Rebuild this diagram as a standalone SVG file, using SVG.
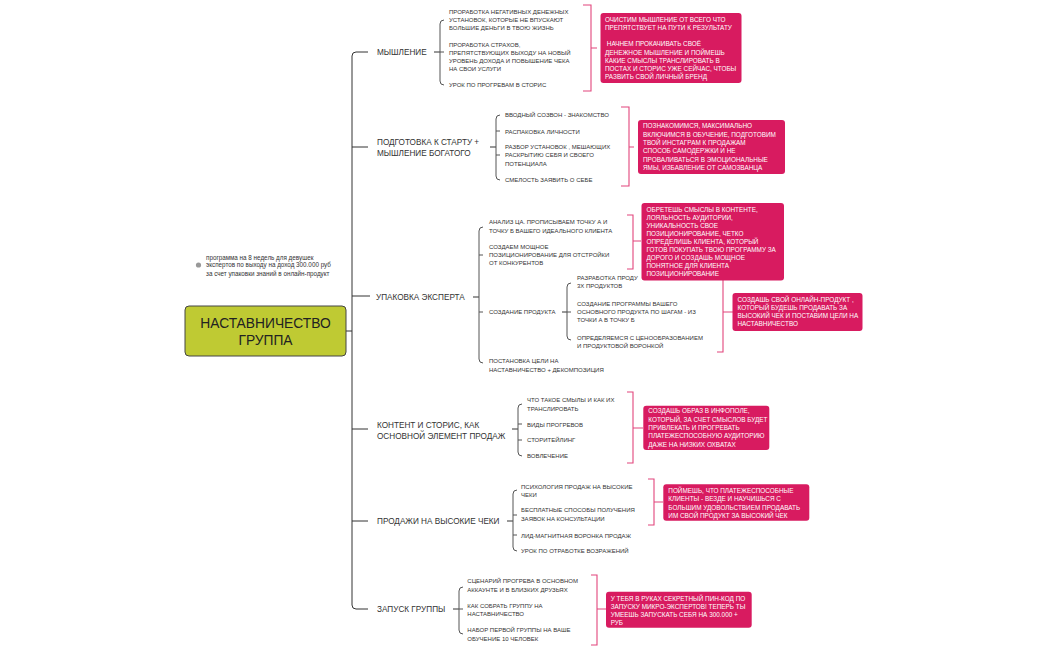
<svg xmlns="http://www.w3.org/2000/svg" width="1050" height="650" viewBox="0 0 1050 650">
<style>
.bg{fill:#ffffff}
.ln{fill:none;stroke:#333;stroke-width:1}
.br{fill:none;stroke:#555;stroke-width:1}
.pk{fill:none;stroke:#e2457c;stroke-width:1.1}
.box{fill:#d81b60}
.t{font-family:"Liberation Sans",Arial,sans-serif;font-size:8.2px;fill:#333}
.c{font-family:"Liberation Sans",Arial,sans-serif;font-size:6px;fill:#333}
.w{font-family:"Liberation Sans",Arial,sans-serif;font-size:6.4px;fill:#fff}
.n{font-family:"Liberation Sans",Arial,sans-serif;font-size:6.3px;fill:#333}
.root{fill:#bfca33;stroke:#444;stroke-width:1}
.rt{font-family:"Liberation Sans",Arial,sans-serif;font-size:13.8px;fill:#222;text-anchor:middle}
</style>
<rect class="bg" x="0" y="0" width="1050" height="650"/>

<g id="connectors">
  <path class="ln" d="M346,331 H352"/>
  <path class="ln" d="M368,52 H356 Q352,52 352,56 V605 Q352,609 356,609 H368"/>
  <path class="ln" d="M352,147 H368 M352,296 H370 M352,429 H368 M352,521 H368"/>
  <path class="ln" d="M434,52 H440"/>
  <path class="br" d="M444,20 Q440,20 440,24 V81 Q440,85 444,85 M440,52 H444"/>
  <path class="pk" d="M583,5 H591 V91 H583 M591,48 H597"/>
  <path class="ln" d="M490,147 H496"/>
  <path class="br" d="M500,115 Q496,115 496,119 V176 Q496,180 500,180 M496,131 H500 M496,155 H500"/>
  <path class="pk" d="M621,107 H629 V186 H621 M629,147 H634"/>
  <path class="ln" d="M473,297 H479"/>
  <path class="br" d="M483,227 Q479,227 479,231 V359 Q479,363 483,363 M479,255 H483 M479,312 H483"/>
  <path class="pk" d="M627,215 H633 V269 H627 M633,241 H641"/>
  <path class="ln" d="M562,312 H567"/>
  <path class="br" d="M571,283 Q567,283 567,287 V336 Q567,340 571,340 M567,312 H571"/>
  <path class="pk" d="M717,272 H723 V352 H717 M723,312 H733"/>
  <path class="ln" d="M512,429 H518"/>
  <path class="br" d="M522,404 Q518,404 518,408 V452 Q518,456 522,456 M518,424 H522 M518,440 H522"/>
  <path class="pk" d="M627,392 H633 V463 H627 M633,428 H643"/>
  <path class="ln" d="M507,521 H513"/>
  <path class="br" d="M517,490 Q513,490 513,494 V547 Q513,551 517,551 M513,515 H517 M513,535 H517"/>
  <path class="pk" d="M648,479 H654 V525 H648 M654,502 H663"/>
  <path class="ln" d="M453,609 H459"/>
  <path class="br" d="M463,587 Q459,587 459,591 V630 Q459,634 463,634 M459,609 H463"/>
  <path class="pk" d="M591,575 H597 V645 H591 M597,609 H606"/>
</g>

<g id="note">
  <circle cx="198.5" cy="265" r="2.6" fill="#999"/>
  <text class="n" x="206"><tspan x="206" y="260">программа на 8 недель для  девушек</tspan><tspan x="206" y="267.3">экспертов по выходу на доход 300.000 руб</tspan><tspan x="206" y="275.5">за счет упаковки знаний в онлайн-продукт</tspan></text>
</g>

<g id="root">
  <rect class="root" x="185" y="306" width="161" height="50" rx="4"/>
  <text class="rt" x="265.5"><tspan x="265.5" y="327.5">НАСТАВНИЧЕСТВО</tspan><tspan x="265.5" y="344.5">ГРУППА</tspan></text>
</g>

<g id="topic-1">
  <text class="t" x="377" y="55.3">МЫШЛЕНИЕ</text>
</g>
<g id="sub-1">
  <text class="c"><tspan x="449" y="14">ПРОРАБОТКА НЕГАТИВНЫХ ДЕНЕЖНЫХ</tspan><tspan x="449" y="22.2">УСТАНОВОК, КОТОРЫЕ НЕ ВПУСКАЮТ</tspan><tspan x="449" y="30.4">БОЛЬШИЕ ДЕНЬГИ В ТВОЮ ЖИЗНЬ</tspan></text>
  <text class="c"><tspan x="449" y="46.5">ПРОРАБОТКА СТРАХОВ,</tspan><tspan x="449" y="55">ПРЕПЯТСТВУЮЩИХ ВЫХОДУ  НА НОВЫЙ</tspan><tspan x="449" y="63.3">УРОВЕНЬ ДОХОДА И ПОВЫШЕНИЕ  ЧЕКА</tspan><tspan x="449" y="71">НА СВОИ УСЛУГИ</tspan></text>
  <text class="c" x="449" y="87.3">УРОК ПО ПРОГРЕВАМ В СТОРИС</text>
</g>
<g id="result-1">
  <rect class="box" x="600.5" y="13" width="141" height="70" rx="3"/>
  <text class="w"><tspan x="605" y="21.5"> ОЧИСТИМ МЫШЛЕНИЕ ОТ ВСЕГО ЧТО</tspan><tspan x="605" y="29.7">ПРЕПЯТСТВУЕТ НА ПУТИ К РЕЗУЛЬТАТУ</tspan><tspan x="605" y="46"> НАЧНЕМ ПРОКАЧИВАТЬ СВОЁ</tspan><tspan x="605" y="54.6">ДЕНЕЖНОЕ МЫШЛЕНИЕ И ПОЙМЕШЬ</tspan><tspan x="605" y="63">КАКИЕ СМЫСЛЫ ТРАНСЛИРОВАТЬ В</tspan><tspan x="605" y="70.6">ПОСТАХ И СТОРИС УЖЕ СЕЙЧАС, ЧТОБЫ</tspan><tspan x="605" y="78.6">РАЗВИТЬ СВОЙ ЛИЧНЫЙ БРЕНД</tspan></text>
</g>

<g id="topic-2">
  <text class="t"><tspan x="377" y="145.3">ПОДГОТОВКА К СТАРТУ +</tspan><tspan x="377" y="155.5">МЫШЛЕНИЕ БОГАТОГО</tspan></text>
</g>
<g id="sub-2">
  <text class="c" x="505" y="117.3">ВВОДНЫЙ СОЗВОН - ЗНАКОМСТВО</text>
  <text class="c" x="505" y="133.5">РАСПАКОВКА ЛИЧНОСТИ</text>
  <text class="c"><tspan x="505" y="149">РАЗБОР УСТАНОВОК , МЕШАЮЩИХ</tspan><tspan x="505" y="157.3">РАСКРЫТИЮ СЕБЯ И СВОЕГО</tspan><tspan x="505" y="165.5">ПОТЕНЦИАЛА</tspan></text>
  <text class="c" x="505" y="182.3">СМЕЛОСТЬ ЗАЯВИТЬ О СЕБЕ</text>
</g>
<g id="result-2">
  <rect class="box" x="638" y="120" width="147" height="54" rx="3"/>
  <text class="w"><tspan x="643" y="128.3">ПОЗНАКОМИМСЯ, МАКСИМАЛЬНО</tspan><tspan x="643" y="136.6">ВКЛЮЧИМСЯ В ОБУЧЕНИЕ,  ПОДГОТОВИМ</tspan><tspan x="643" y="145">ТВОЙ ИНСТАГРАМ К ПРОДАЖАМ</tspan><tspan x="643" y="153.3">СПОСОБ САМОДЕРЖКИ И НЕ</tspan><tspan x="643" y="161.6">ПРОВАЛИВАТЬСЯ В ЭМОЦИОНАЛЬНЫЕ</tspan><tspan x="643" y="170">ЯМЫ, ИЗБАВЛЕНИЕ ОТ САМОЗВАНЦА</tspan></text>
</g>

<g id="topic-3">
  <text class="t" x="376" y="299.5">УПАКОВКА ЭКСПЕРТА</text>
</g>
<g id="sub-3">
  <text class="c"><tspan x="489" y="224.3">АНАЛИЗ ЦА. ПРОПИСЫВАЕМ ТОЧКУ А И</tspan><tspan x="489" y="232.6">ТОЧКУ Б ВАШЕГО ИДЕАЛЬНОГО КЛИЕНТА</tspan></text>
  <text class="c"><tspan x="489" y="248.6">СОЗДАЕМ МОЩНОЕ</tspan><tspan x="489" y="256.6">ПОЗИЦИОНИРОВАНИЕ ДЛЯ ОТСТРОЙКИ</tspan><tspan x="489" y="264.6">ОТ КОНКУРЕНТОВ</tspan></text>
  <text class="c" x="489" y="314">СОЗДАНИЕ ПРОДУКТА</text>
  <text class="c"><tspan x="489" y="363">ПОСТАНОВКА ЦЕЛИ НА</tspan><tspan x="489" y="371.6">НАСТАВНИЧЕСТВО + ДЕКОМПОЗИЦИЯ</tspan></text>
</g>
<g id="sub-3-2">
  <text class="c"><tspan x="577" y="279.6">РАЗРАБОТКА ПРОДУ</tspan><tspan x="577" y="288">3Х ПРОДУКТОВ</tspan></text>
  <text class="c"><tspan x="577" y="305.6">СОЗДАНИЕ ПРОГРАММЫ ВАШЕГО</tspan><tspan x="577" y="314">ОСНОВНОГО ПРОДУКТА ПО ШАГАМ - ИЗ</tspan><tspan x="577" y="322.3">ТОЧКИ А В ТОЧКУ Б</tspan></text>
  <text class="c"><tspan x="577" y="339.6">ОПРЕДЕЛЯЕМСЯ С ЦЕНООБРАЗОВАНИЕМ</tspan><tspan x="577" y="347.6">И ПРОДУКТОВОЙ ВОРОНКОЙ</tspan></text>
</g>
<g id="result-3">
  <rect class="box" x="641.5" y="203" width="142.5" height="77.5" rx="3"/>
  <text class="w"><tspan x="646.5" y="212">ОБРЕТЕШЬ СМЫСЛЫ В КОНТЕНТЕ,</tspan><tspan x="646.5" y="219.6">ЛОЯЛЬНОСТЬ АУДИТОРИИ,</tspan><tspan x="646.5" y="228">УНИКАЛЬНОСТЬ СВОЕ</tspan><tspan x="646.5" y="236">ПОЗИЦИОНИРОВАНИЕ, ЧЕТКО</tspan><tspan x="646.5" y="244">ОПРЕДЕЛИШЬ КЛИЕНТА, КОТОРЫЙ</tspan><tspan x="646.5" y="252.3">ГОТОВ ПОКУПАТЬ ТВОЮ ПРОГРАММУ ЗА</tspan><tspan x="646.5" y="260.3">ДОРОГО И СОЗДАШЬ МОЩНОЕ</tspan><tspan x="646.5" y="268.3">ПОНЯТНОЕ ДЛЯ КЛИЕНТА</tspan><tspan x="646.5" y="276.3">ПОЗИЦИОНИРОВАНИЕ</tspan></text>
</g>
<g id="result-3-2">
  <rect class="box" x="732.5" y="293" width="130" height="38" rx="3"/>
  <text class="w"><tspan x="737.5" y="301.6">СОЗДАШЬ СВОЙ ОНЛАЙН-ПРОДУКТ ,</tspan><tspan x="737.5" y="309.6">КОТОРЫЙ БУДЕШЬ ПРОДАВАТЬ ЗА</tspan><tspan x="737.5" y="317.6">ВЫСОКИЙ ЧЕК И ПОСТАВИМ ЦЕЛИ НА</tspan><tspan x="737.5" y="325.6">НАСТАВНИЧЕСТВО</tspan></text>
</g>

<g id="topic-4">
  <text class="t"><tspan x="377" y="428">КОНТЕНТ И СТОРИС, КАК</tspan><tspan x="377" y="438.7">ОСНОВНОЙ ЭЛЕМЕНТ ПРОДАЖ</tspan></text>
</g>
<g id="sub-4">
  <text class="c"><tspan x="527" y="402.3">ЧТО ТАКОЕ СМЫЛЫ И КАК ИХ</tspan><tspan x="527" y="410.6">ТРАНСЛИРОВАТЬ</tspan></text>
  <text class="c" x="527" y="426.6">ВИДЫ ПРОГРЕВОВ</text>
  <text class="c" x="527" y="442.3">СТОРИТЕЙЛИНГ</text>
  <text class="c" x="527" y="458.3">ВОВЛЕЧЕНИЕ</text>
</g>
<g id="result-4">
  <rect class="box" x="643.3" y="405.7" width="126" height="44.3" rx="3"/>
  <text class="w"><tspan x="648.3" y="413.3">СОЗДАШЬ ОБРАЗ В ИНФОПОЛЕ,</tspan><tspan x="648.3" y="421.6">КОТОРЫЙ, ЗА СЧЕТ СМЫСЛОВ БУДЕТ</tspan><tspan x="648.3" y="430">ПРИВЛЕКАТЬ И ПРОГРЕВАТЬ</tspan><tspan x="648.3" y="438.3">ПЛАТЕЖЕСПОСОБНУЮ АУДИТОРИЮ</tspan><tspan x="648.3" y="446.6">ДАЖЕ НА НИЗКИХ ОХВАТАХ</tspan></text>
</g>

<g id="topic-5">
  <text class="t" x="377" y="524">ПРОДАЖИ НА ВЫСОКИЕ ЧЕКИ</text>
</g>
<g id="sub-5">
  <text class="c"><tspan x="521" y="489">ПСИХОЛОГИЯ ПРОДАЖ НА ВЫСОКИЕ</tspan><tspan x="521" y="496.6">ЧЕКИ</tspan></text>
  <text class="c"><tspan x="521" y="512.3">БЕСПЛАТНЫЕ СПОСОБЫ ПОЛУЧЕНИЯ</tspan><tspan x="521" y="520.6">ЗАЯВОК НА КОНСУЛЬТАЦИИ</tspan></text>
  <text class="c" x="521" y="537.6">ЛИД-МАГНИТНАЯ ВОРОНКА ПРОДАЖ</text>
  <text class="c" x="521" y="553.3">УРОК ПО ОТРАБОТКЕ ВОЗРАЖЕНИЙ</text>
</g>
<g id="result-5">
  <rect class="box" x="663.3" y="484.3" width="146" height="36.4" rx="3"/>
  <text class="w"><tspan x="668.3" y="493">ПОЙМЕШЬ, ЧТО ПЛАТЕЖЕСПОСОБНЫЕ</tspan><tspan x="668.3" y="501.3">КЛИЕНТЫ - ВЕЗДЕ И НАУЧИШЬСЯ С</tspan><tspan x="668.3" y="509.6">БОЛЬШИМ УДОВОЛЬСТВИЕМ ПРОДАВАТЬ</tspan><tspan x="668.3" y="517.6">ИМ  СВОЙ ПРОДУКТ ЗА ВЫСОКИЙ ЧЕК</tspan></text>
</g>

<g id="topic-6">
  <text class="t" x="377" y="612.3">ЗАПУСК ГРУППЫ</text>
</g>
<g id="sub-6">
  <text class="c"><tspan x="467.3" y="583.3">СЦЕНАРИЙ ПРОГРЕВА В ОСНОВНОМ</tspan><tspan x="467.3" y="592.3">АККАУНТЕ И В БЛИЗКИХ ДРУЗЬЯХ</tspan></text>
  <text class="c"><tspan x="467.3" y="608">КАК СОБРАТЬ ГРУППУ НА</tspan><tspan x="467.3" y="616.3">НАСТАВНИЧЕСТВО</tspan></text>
  <text class="c"><tspan x="467.3" y="632.3">НАБОР ПЕРВОЙ ГРУППЫ НА ВАШЕ</tspan><tspan x="467.3" y="640.6">ОБУЧЕНИЕ 10 ЧЕЛОВЕК</tspan></text>
</g>
<g id="result-6">
  <rect class="box" x="606" y="591.7" width="145.7" height="36" rx="3"/>
  <text class="w"><tspan x="610.7" y="600.6">У ТЕБЯ В РУКАХ СЕКРЕТНЫЙ ПИН-КОД ПО</tspan><tspan x="610.7" y="609">ЗАПУСКУ МИКРО-ЭКСПЕРТОВ! ТЕПЕРЬ ТЫ</tspan><tspan x="610.7" y="617.3">УМЕЕШЬ ЗАПУСКАТЬ СЕБЯ НА 300.000 +</tspan><tspan x="610.7" y="625.3">РУБ</tspan></text>
</g>
</svg>
